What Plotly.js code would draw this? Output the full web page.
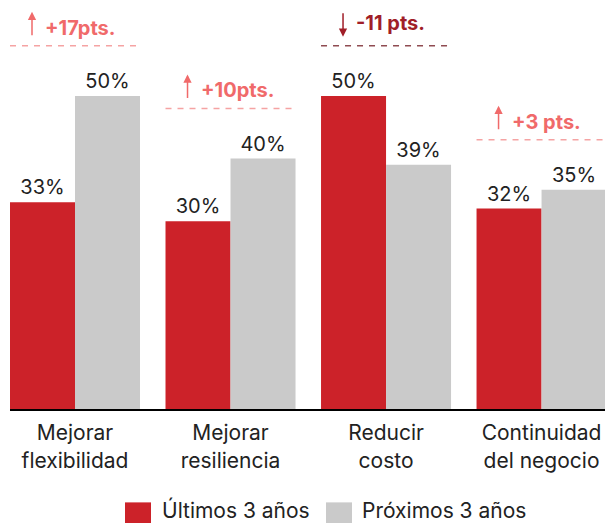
<!DOCTYPE html>
<html>
<head>
<meta charset="utf-8">
<script src="https://cdn.plot.ly/plotly-3.0.1.min.js"></script>
<style>html,body{margin:0;padding:0;background:#fff;}#chart{width:605px;height:523px;}</style>
</head>
<body>
<div id="chart"></div>
<script>
// ---- data ----
const categories = ["Mejorar<br>flexibilidad", "Mejorar<br>resiliencia", "Reducir<br>costo", "Continuidad<br>del negocio"];
const seriesNames = ["Últimos 3 años", "Próximos 3 años"];
const ultimos = [33, 30, 50, 32];
const proximos = [50, 40, 39, 35];
const changeLabels = ["+17pts.", "+10pts.", "-11 pts.", "+3 pts."];

// ---- styling ----
const RED = "#cc2229", GRAY = "#cacaca";
const UP_TEXT = "#f06a6a", UP_LINE = "#f5a3a3";
const DOWN_TEXT = "#a01e28", DOWN_LINE = "#8f4b51";
const FONT = "Inter, Roboto, 'Noto Sans', sans-serif";

const W = 605, H = 523, ML = 10, MB = 113.5;
const plotW = W - ML, plotH = H - MB;
const px2x = px => (px - ML) / plotW;
const py2y = py => (plotH - py) / plotH;

const xs = categories.map((_, i) => i);
const half = 0.418;

const traces = [
  {type: "bar", name: seriesNames[0], x: xs, y: ultimos, marker: {color: RED},
   texttemplate: "%{y}%", textposition: "outside", cliponaxis: false,
   textfont: {family: FONT, size: 20, color: "#222"}, hoverinfo: "skip"},
  {type: "bar", name: seriesNames[1], x: xs, y: proximos, marker: {color: GRAY},
   texttemplate: "%{y}%", textposition: "outside", cliponaxis: false,
   textfont: {family: FONT, size: 20, color: "#222"}, hoverinfo: "skip"}
];

const shapes = [], annotations = [];
xs.forEach(i => {
  const diff = proximos[i] - ultimos[i];
  const up = diff >= 0;
  const ly = Math.max(ultimos[i], proximos[i]) + 8;
  shapes.push({type: "line", xref: "x", yref: "y", x0: i - half, x1: i + half, y0: ly, y1: ly,
    line: {color: up ? UP_LINE : DOWN_LINE, width: 1.5, dash: "6px,6px"}});
  const ax = i - half + 22 / 155.5;
  // arrow
  annotations.push({xref: "x", yref: "y", x: ax, y: ly, text: "", showarrow: true,
    axref: "pixel", ayref: "pixel", ax: 0, ay: up ? 25 : -25,
    yshift: up ? 34 : 9, arrowhead: 2, arrowsize: 1.1, arrowwidth: 1.5,
    arrowcolor: up ? UP_TEXT : DOWN_TEXT, standoff: 0, startstandoff: 0});
  annotations.push({xref: "x", yref: "y", x: ax, y: ly, xanchor: "left", yanchor: "middle",
    xshift: 11, yshift: up ? 18 : 23, showarrow: false, text: "<b>" + changeLabels[i] + "</b>",
    font: {family: FONT, size: 20, color: up ? UP_TEXT : DOWN_TEXT}});
});

// manual legend
const legendItems = [{color: RED, x: 125, tx: 160}, {color: GRAY, x: 326, tx: 360}];
legendItems.forEach((it, k) => {
  shapes.push({type: "rect", xref: "paper", yref: "paper",
    x0: px2x(it.x), x1: px2x(it.x + 26), y0: py2y(503), y1: py2y(529),
    fillcolor: it.color, line: {width: 0}});
  annotations.push({xref: "paper", yref: "paper", x: px2x(it.tx), y: py2y(511),
    xanchor: "left", yanchor: "middle", showarrow: false, text: seriesNames[k],
    font: {family: FONT, size: 21, color: "#222"}});
});

const layout = {
  width: W, height: H,
  margin: {l: ML, r: 0, t: 0, b: MB, pad: 0},
  paper_bgcolor: "#fff", plot_bgcolor: "#fff",
  barmode: "group", bargap: 0.164, bargroupgap: 0,
  showlegend: false,
  xaxis: {range: [-half, 3.408], tickvals: xs, ticktext: categories, showline: true,
    linecolor: "#000", linewidth: 2, showgrid: false, zeroline: false, ticks: "",
    ticklabelstandoff: 4,
    tickfont: {family: FONT, size: 21, color: "#222"}, fixedrange: true},
  yaxis: {range: [0, plotH / 6.27], visible: false, showgrid: false, zeroline: false, fixedrange: true},
  shapes: shapes, annotations: annotations,
  font: {family: FONT}
};

Plotly.newPlot("chart", traces, layout, {displayModeBar: false, staticPlot: true});
</script>
</body>
</html>
